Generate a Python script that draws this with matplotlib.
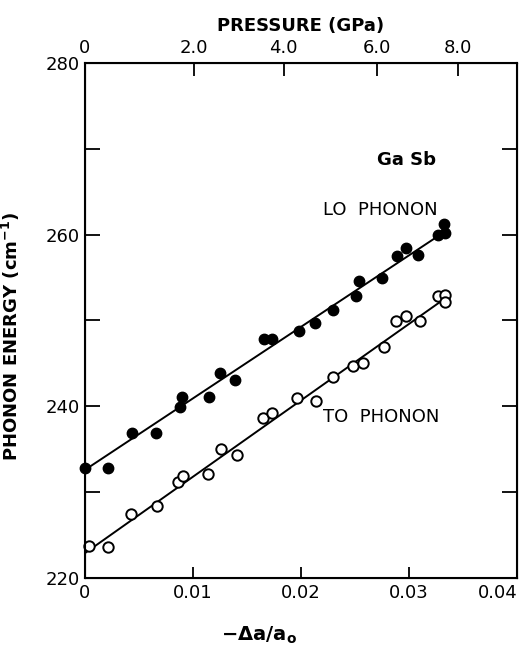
import matplotlib
matplotlib.use("Agg")
import matplotlib.pyplot as plt
import matplotlib.transforms as mtransforms
import numpy as np

plt.rcParams['font.family'] = ['DejaVu Sans']
plt.rcParams['mathtext.fontset'] = 'dejavusans'

# Strain -Δa/a0 and phonon energies (cm^-1) for GaSb
lo_strain = [0.0, 0.00216, 0.00432, 0.00657, 0.0088, 0.00898, 0.01151, 0.0125,
             0.01389, 0.0166, 0.01728, 0.01984, 0.0213, 0.02293, 0.02509, 0.0254,
             0.02746, 0.02892, 0.02972, 0.03086, 0.03272, 0.03333, 0.03324]
lo_energy = [232.8, 232.8, 236.9, 236.9, 239.9, 241.1, 241.1, 243.9,
             243.1, 247.8, 247.8, 248.8, 249.7, 251.2, 252.8, 254.6,
             255.0, 257.5, 258.5, 257.6, 260.0, 260.2, 261.3]

to_strain = [0.0004, 0.00216, 0.00426, 0.0067, 0.00864, 0.0091, 0.01142, 0.01256,
             0.01404, 0.01645, 0.01734, 0.01966, 0.02136, 0.02293, 0.02484, 0.02571,
             0.02769, 0.02877, 0.02972, 0.03102, 0.03272, 0.03333, 0.0333]
to_energy = [223.7, 223.6, 227.5, 228.4, 231.2, 231.9, 232.1, 235.0,
             234.3, 238.6, 239.2, 241.0, 240.6, 243.4, 244.7, 245.0,
             246.9, 249.9, 250.5, 249.9, 252.8, 253.0, 252.2]

# Linear fits: E = E0 + slope * strain
lo_fit = (232.6, 833.0)
to_fit = (222.9, 890.0)
fit_range = [0.0, 0.0333]

# Bottom axis ticks
strain_ticks = [0, 0.01, 0.02, 0.03, 0.04]
strain_labels = ["0", "0.01", "0.02", "0.03", "0.04"]
energy_ticks = [220, 240, 260, 280]
energy_minor = [230, 250, 270]

# Pressure scale on the top axis (GPa) and the strain each value corresponds to
pressure_labels = ["0", "2.0", "4.0", "6.0", "8.0"]
pressure_strain = [0.0, 0.0101, 0.0184, 0.0270, 0.0345]

fig = plt.figure(figsize=(5.21, 6.48), dpi=100)
ax = fig.add_axes([85/521, 1-578/648, 432/521, 515/648])

xs = np.array(fit_range)
ax.plot(xs, lo_fit[0] + lo_fit[1]*xs, color='black', lw=1.4, zorder=2)
ax.plot(xs, to_fit[0] + to_fit[1]*xs, color='black', lw=1.4, zorder=2)

ax.plot(lo_strain, lo_energy, 'o', ms=7.5, mfc='black', mec='black',
        clip_on=False, zorder=3)
ax.plot(to_strain, to_energy, 'o', ms=7.5, mfc='white', mec='black', mew=1.4,
        clip_on=False, zorder=3)

ax.set_xlim(0, 0.04)
ax.set_ylim(220, 280)

ax.set_xticks(strain_ticks)
ax.set_xticklabels(strain_labels)
ax.set_yticks(energy_ticks)
ax.set_yticks(energy_minor, minor=True)
ax.tick_params(axis='both', which='both', direction='in', width=1.3,
               labelsize=13, top=False, right=True)
ax.tick_params(axis='x', which='major', length=8, pad=4)
ax.tick_params(axis='y', which='both', length=11, pad=4)

# keep the last strain label inside the figure edge
last = ax.get_xticklabels()[-1]
last.set_transform(last.get_transform() +
                   mtransforms.ScaledTranslation(-19/100, 0, fig.dpi_scale_trans))

for s in ax.spines.values():
    s.set_linewidth(1.5)

top = ax.twiny()
top.set_xlim(ax.get_xlim())
top.set_xticks(pressure_strain)
top.set_xticklabels(pressure_labels)
top.tick_params(axis='x', direction='in', length=9, width=1.3,
                labelsize=13, pad=4)
top.set_xlabel("PRESSURE (GPa)", fontsize=13, fontweight='bold', labelpad=6)

ax.set_ylabel("PHONON ENERGY (cm$^{\\mathbf{-1}}$)", fontsize=13,
              fontweight='bold')
ax.yaxis.set_label_coords(-0.145, 0.47)
ax.set_xlabel(r"$\mathbf{-\Delta a/a_o}$", fontsize=14)
ax.xaxis.set_label_coords(0.403, -0.09)

ax.text(0.0298, 268.7, "Ga Sb", fontsize=13, fontweight='bold',
        ha='center', va='center')
ax.text(0.0273, 262.9, "LO  PHONON", fontsize=13, ha='center', va='center')
ax.text(0.0274, 238.8, "TO  PHONON", fontsize=13, ha='center', va='center')

fig.savefig("out.png", dpi=100)
